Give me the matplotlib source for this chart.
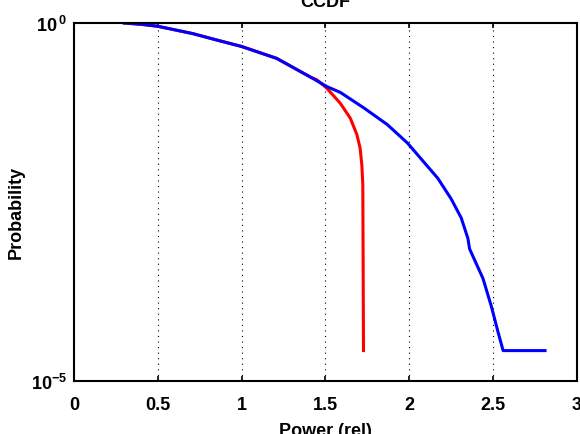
import math

import matplotlib
matplotlib.use("Agg")
import matplotlib.pyplot as plt
from matplotlib.ticker import FixedLocator, FuncFormatter, NullLocator

plt.rcParams["font.family"] = ["Liberation Sans", "DejaVu Sans"]
plt.rcParams["font.weight"] = "bold"
plt.rcParams["mathtext.fontset"] = "custom"
plt.rcParams["mathtext.rm"] = "Liberation Sans:bold"
plt.rcParams["mathtext.bf"] = "Liberation Sans:bold"
plt.rcParams["mathtext.it"] = "Liberation Sans:bold"

# blue curve (CCDF)
blue_x = [0.30, 0.40, 0.50, 0.71, 0.85, 1.00, 1.21, 1.41, 1.51, 1.59, 1.73, 1.87,
          1.99, 2.17, 2.25, 2.31, 2.35, 2.36, 2.44, 2.49, 2.53, 2.56, 2.81]
blue_p = [1.0, 0.96, 0.90, 0.71, 0.58, 0.47, 0.32, 0.176, 0.129, 0.107, 0.065, 0.038,
          0.021, 0.0068, 0.0035, 0.0019, 0.00098, 0.0007, 0.00027, 0.00011,
          0.000048, 0.0000266, 0.0000266]

# red curve
red_x = [0.30, 0.40, 0.50, 0.71, 0.85, 1.00, 1.21, 1.41, 1.449, 1.508, 1.588, 1.648,
         1.688, 1.707, 1.717, 1.723, 1.727]
red_p = [1.0, 0.96, 0.90, 0.71, 0.58, 0.47, 0.32, 0.176, 0.161, 0.123, 0.076, 0.047,
         0.0275, 0.0178, 0.0105, 0.0055, 0.0000266]

x_ticks = [0, 0.5, 1, 1.5, 2, 2.5, 3]
x_tick_labels = ["0", "0.5", "1", "1.5", "2", "2.5", "3"]
y_ticks = [1e-5, 1e0]


def log_label(v, pos):
    e = round(math.log10(v))
    if e < 0:
        return r"$\mathbf{10^{%d}}$" % e
    return r"$\mathbf{10^{\,%d}}$" % e


fig = plt.figure(figsize=(5.8, 4.35), dpi=100)
ax = fig.add_axes([0.1276, 0.1218, 0.867, 0.8230])

ax.semilogy(red_x, red_p, color="#ff0000", linewidth=2.2)
ax.semilogy(blue_x, blue_p, color="#0000ff", linewidth=2.2)

ax.set_xlim(0, 3)
ax.set_ylim(1e-5, 1)
ax.set_xticks(x_ticks)
ax.set_xticklabels(x_tick_labels)
ax.yaxis.set_major_locator(FixedLocator(y_ticks))
ax.yaxis.set_minor_locator(NullLocator())
ax.yaxis.set_major_formatter(FuncFormatter(log_label))

ax.xaxis.grid(True, color="black", linestyle=(0, (1, 4)), linewidth=0.8)
ax.tick_params(axis="x", direction="in", top=True, length=3.5, width=1.2,
               labelsize=13, pad=11)
ax.tick_params(axis="y", length=0, labelsize=13, pad=5)
for s in ax.spines.values():
    s.set_linewidth(1.5)

ax.set_title("CCDF", fontsize=13, fontweight="bold", pad=12)
ax.set_xlabel("Power (rel)", fontsize=13, fontweight="bold", labelpad=6)
ax.set_ylabel("Probability", fontsize=13, fontweight="bold")
ax.yaxis.set_label_coords(-0.097, 0.475)

fig.savefig("out.png", dpi=100)
